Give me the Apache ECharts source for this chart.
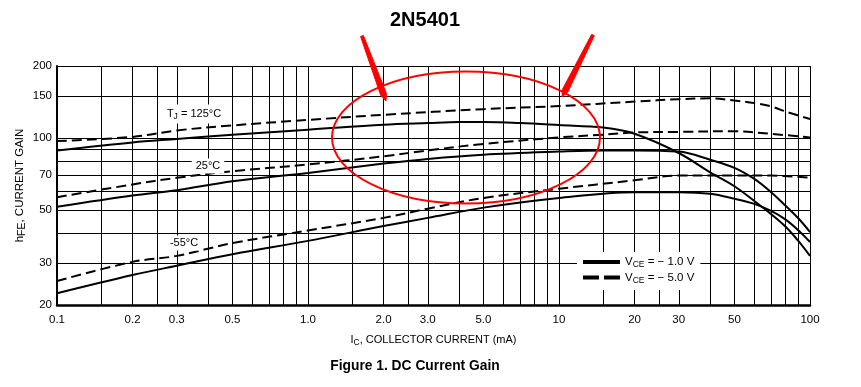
<!DOCTYPE html>
<html><head><meta charset="utf-8">
<script src="https://cdn.jsdelivr.net/npm/echarts@6/dist/echarts.min.js"></script>
<style>html,body{margin:0;padding:0;background:#fff}#c{width:861px;height:387px}</style>
</head><body><div id="c"></div>
<script>
// ---- tick labels & grid lines ----
const xTickLabels = ['0.1','0.2','0.3','0.5','1.0','2.0','3.0','5.0','10','20','30','50','100'];
const yTickLabels = ['20','30','50','70','100','150','200'];
const xGridLines = [0.1,0.15,0.2,0.25,0.3,0.4,0.5,0.6,0.7,0.8,0.9,1,1.5,2,2.5,3,4,5,6,7,8,9,10,15,20,25,30,40,50,60,70,80,90,100];
const yGridLines = [20,30,40,50,60,70,80,90,100,150,200];
const xMin = 0.1, xMax = 100, yMin = 20, yMax = 200;

// ---- data: IC (mA) and hFE ----
const ic_125_5V  = [0.1,0.2,0.3,0.5,1,2,5,10,20,30,40,50,60,70,80,100];
const hfe_125_5V = [97,101,107.5,112.8,119,125,132,136,141.9,145.3,146.5,143.4,139.9,135.5,129,120];
const ic_125_1V  = [0.1,0.2,0.3,0.5,1,2,3,4,5,7,10,15,20,30,40,50,60,70,80,90,100];
const hfe_125_1V = [88.7,95.8,99,103.2,108.2,113.6,115.4,116.5,116.5,115.4,113.2,110.5,104.1,86.5,71.8,62.8,54.5,48,42.5,37,32.1];
const ic_25_5V   = [0.1,0.2,0.3,0.5,1,2,3,5,10,15,20,30,50,70,100];
const hfe_25_5V  = [56.5,63.9,68.1,72.6,77.4,83.8,88.7,94.4,100.5,103.2,105.4,106,106.7,104,100.5];
const ic_25_1V   = [0.1,0.2,0.3,0.5,1,2,3,5,10,15,20,30,40,50,60,70,80,90,100];
const hfe_25_1V  = [51.5,57.4,60.4,65.9,71.4,78.1,81.7,85.1,87.7,88.7,88.7,87.7,81.1,75,67.4,59.3,52,46,40.4];
const ic_m55_5V  = [0.1,0.2,0.3,0.5,1,2,3,5,10,20,30,50,70,100];
const hfe_m55_5V = [25.2,30.3,32.1,36.3,41,46.3,50.6,56.1,61.3,66.5,69.6,69.6,69.6,68.1];
const ic_m55_1V  = [0.1,0.2,0.3,0.5,1,2,3,5,10,20,30,40,50,60,70,80,90,100];
const hfe_m55_1V = [22.4,26.7,29.2,32.6,37.1,42.8,46.3,51.1,56.1,59.3,59.3,58.4,55.7,53,49.5,45.5,41,36.7];

const legendNames = ['VCE = \u2212 1.0 V', 'VCE = \u2212 5.0 V'];

const fontN = "'Liberation Sans Narrow','Arial Narrow','Liberation Sans',Arial,sans-serif";
const fontB = "'Liberation Sans',Arial,sans-serif";
const fs = 11.5;

function zip(xs, ys){ return xs.map((x,i)=>[x, ys[i]]); }
function labelFor(labels){
  return function(v){
    for (const s of labels){ if (Math.abs(Math.log10(parseFloat(s)) - v) < 1e-6) return s; }
    return '';
  };
}
const lg = v => Math.log10(v);

function mkSeries(name, xs, ys, dashed){
  return {
    type:'line', name: name, xAxisIndex:0, yAxisIndex:0,
    data: zip(xs, ys), symbol:'none', smooth:0.35, z:3,
    lineStyle:{color:'#000', width:2, type: dashed ? [10,5] : 'solid'},
    itemStyle:{color:'#000'}
  };
}

function arrowPoly(x0,y0,x1,y1,w0,w1,headLen){
  const dx=x1-x0, dy=y1-y0, L=Math.hypot(dx,dy), ux=dx/L, uy=dy/L, nx=-uy, ny=ux;
  const bx=x1-ux*headLen, by=y1-uy*headLen;
  return [[x0+nx*w0/2,y0+ny*w0/2],[bx+nx*w1/2,by+ny*w1/2],[x1,y1],[bx-nx*w1/2,by-ny*w1/2],[x0-nx*w0/2,y0-ny*w0/2]];
}

const chart = echarts.init(document.getElementById('c'), null, {renderer:'canvas'});
const option = {
  backgroundColor:'#fff',
  animation:false,
  title:[
    {text:'2N5401', left:425, top:10, textAlign:'center', padding:0,
     textStyle:{fontFamily:fontB, fontWeight:'bold', fontSize:20, color:'#000'}},
    {text:'Figure 1. DC Current Gain', left:415, top:359, textAlign:'center', padding:0,
     textStyle:{fontFamily:fontB, fontWeight:'bold', fontSize:13.8, color:'#000'}}
  ],
  grid:{left:57, top:66, width:753, height:239, containLabel:false},
  legend:{
    orient:'vertical', left:577, top:252, padding:[4,6,5,6], backgroundColor:'#fff',
    itemWidth:37, itemHeight:12, itemGap:2, z:5,
    data:[
      {name:legendNames[0], icon:'path://M0,0h37v4h-37z'},
      {name:legendNames[1], icon:'path://M0,0h16v4h-16z M21,0h16v4h-16z'}
    ],
    itemStyle:{color:'#000', borderWidth:0},
    formatter: n => '{a|V}{s|CE}{a|' + n.slice(3) + '}',
    textStyle:{color:'#000', fontFamily:fontN, fontSize:fs,
      rich:{a:{fontFamily:fontN, fontSize:fs, color:'#000'},
            s:{fontFamily:fontN, fontSize:8.5, color:'#000', padding:[6,0,0,0]}}}
  },
  xAxis:[
    {type:'log', logBase:10, min:xMin, max:xMax, show:false, gridIndex:0},
    {type:'value', min:lg(xMin), max:lg(xMax), position:'bottom', gridIndex:0,
     axisLine:{show:true, onZero:false, lineStyle:{color:'#000', width:2.5}},
     axisTick:{show:false, customValues: xGridLines.map(lg)},
     splitLine:{show:true, lineStyle:{color:'#000', width:1}},
     axisLabel:{show:true, customValues: xTickLabels.map(s=>lg(parseFloat(s))), formatter: labelFor(xTickLabels),
       color:'#000', fontFamily:fontN, fontSize:fs, margin:9},
     name:'I{s|C}, COLLECTOR CURRENT (mA)', nameLocation:'middle', nameGap:27,
     nameTextStyle:{color:'#000', fontFamily:fontN, fontSize:11,
       rich:{s:{fontFamily:fontN, fontSize:8.5, color:'#000', padding:[6,0,0,0]}}}
    }
  ],
  yAxis:[
    {type:'log', logBase:10, min:yMin, max:yMax, show:false, gridIndex:0},
    {type:'value', min:lg(yMin), max:lg(yMax), position:'left', gridIndex:0,
     axisLine:{show:true, onZero:false, lineStyle:{color:'#000', width:2}},
     axisTick:{show:false, customValues: yGridLines.map(lg)},
     splitLine:{show:true, lineStyle:{color:'#000', width:1}},
     axisLabel:{show:true, customValues: yTickLabels.map(s=>lg(parseFloat(s))), formatter: labelFor(yTickLabels),
       color:'#000', fontFamily:fontN, fontSize:fs, margin:5},
     name:'h{s|FE}, CURRENT GAIN', nameLocation:'middle', nameGap:29.5, nameRotate:90, nameMoveOverlap:false,
     nameTextStyle:{color:'#000', fontFamily:fontN, fontSize:11.5,
       rich:{s:{fontFamily:fontN, fontSize:10.5, color:'#000', padding:[4,0,0,0]}}}
    }
  ],
  series:[
    mkSeries(legendNames[0], ic_125_1V, hfe_125_1V, false),
    mkSeries(legendNames[1], ic_125_5V, hfe_125_5V, true),
    mkSeries(legendNames[0], ic_25_1V, hfe_25_1V, false),
    mkSeries(legendNames[1], ic_25_5V, hfe_25_5V, true),
    mkSeries(legendNames[0], ic_m55_1V, hfe_m55_1V, false),
    mkSeries(legendNames[1], ic_m55_5V, hfe_m55_5V, true)
  ],
  graphic:[
    {type:'text', x:194, y:114, z:10, style:{text:'T{s|J} = 125°C', align:'center', verticalAlign:'middle',
      fill:'#000', backgroundColor:'#fff', padding:[2,4,2,4], font:'11px '+fontN,
      rich:{s:{fontSize:8.5, fontFamily:fontN, padding:[6,0,0,0], fill:'#000'}}}},
    {type:'text', x:208, y:166, z:10, style:{text:'25°C', align:'center', verticalAlign:'middle',
      fill:'#000', backgroundColor:'#fff', padding:[2,4,2,4], font:'11px '+fontN}},
    {type:'text', x:184, y:243, z:10, style:{text:'-55°C', align:'center', verticalAlign:'middle',
      fill:'#000', backgroundColor:'#fff', padding:[2,4,2,4], font:'11px '+fontN}},
    {type:'ellipse', z:20, shape:{cx:466, cy:137.5, rx:134, ry:66}, style:{fill:null, stroke:'#ff0000', lineWidth:2}},
    {type:'polygon', z:20, shape:{points: arrowPoly(362,36,386,101,3,6,7)}, style:{fill:'#ff0000', stroke:'#ff0000', lineWidth:1}},
    {type:'polygon', z:20, shape:{points: arrowPoly(593,35,562,97,3,6,7)}, style:{fill:'#ff0000', stroke:'#ff0000', lineWidth:1}}
  ]
};
chart.setOption(option);
</script>
</body></html>
